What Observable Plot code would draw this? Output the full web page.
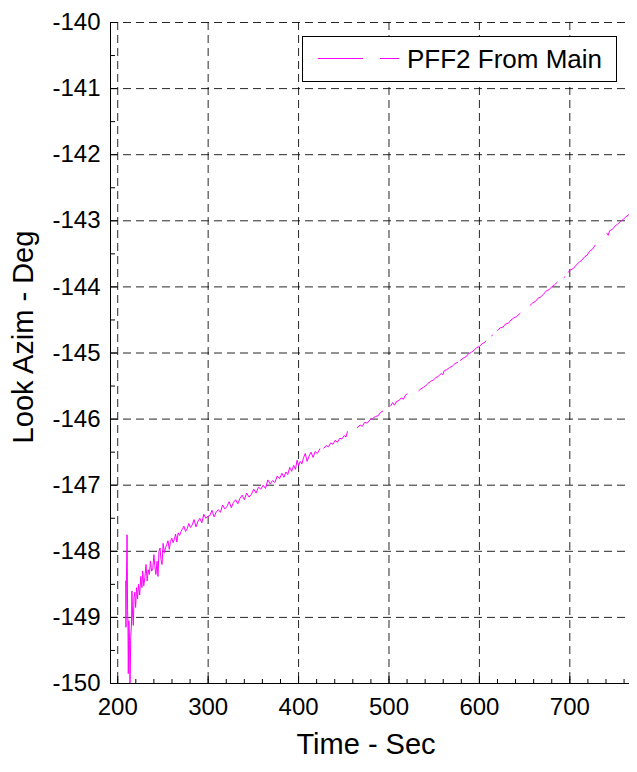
<!DOCTYPE html>
<html>
<head>
<meta charset="utf-8">
<script src="https://cdn.jsdelivr.net/npm/d3@7"></script>
<script src="https://cdn.jsdelivr.net/npm/@observablehq/plot@0.6"></script>
<style>
  html, body { margin: 0; padding: 0; background: #fff; }
  svg { display: block; }
</style>
</head>
<body>
<div id="chart"></div>
<script>
// ---- data (null = gap in the recorded trace) ----
const time = [
  208.8, 209.1, 209.5, 210.3, 210.6, 210.9, 211.3, 211.7, 212.3, 213.1, 213.6, 214.4,
  215.2, 215.7, 216.4, 217.2, 218.0, 218.9, 219.8, 220.8, 221.9, 223.0, 224.3, 225.5, 226.7, 227.6, 228.8, 230.0,
  231.3, 232.5, 233.8, 235.0, 236.2, 237.5, 238.8, 240.0, 241.0, 242.2, 243.5, 244.5, 245.6, 246.8, 247.8, 249.0,
  250.2, 251.6, 253.0, 254.2, 255.6, 257.0, 258.4, 259.8, 261.2, 262.6, 264.0, 265.4, 266.8, 268.4, 270.0, 271.6,
  273.2, 275.0, 276.8, 278.6, 280.4, 282.4, 284.4, 286.6, 288.6, 290.8, 293.0, 295.2, 297.4, 299.6, 302.0, 304.2,
  306.6, 309.0, 311.4, 313.6, 316.0, 318.4, 320.8, 323.2, 325.6, 328.0, 330.4, 332.8, 335.2, 337.6, 340.0, 342.6,
  345.2, 347.8, 350.4, 353.0, 355.6, 358.2, 360.8, 363.4, 366.0, 368.6, 371.2, 373.8, 376.4, 379.0, 381.6, 383.8,
  386.0, 388.0, 390.2, 392.4, 394.6, 396.6, 398.4, 400.0, 401.8, 403.6, 405.6, 407.4, 409.4, 411.6, 413.8, 416.0,
  418.4, 420.8, 423.5, null,
  428, 430.5, 433, 435.5, 438, 440.5, 443, 445.5, 448, 450.5, 452.5, 454, null,
  465, 468, 470.5, 473, 476, 479, 482, 485, 488, 490.5, 493, null,
  502, 504, 506, 508.5, 511, 513.5, 516, 518, 520, null,
  533, 535.5, 538, 540.5, 543, 546, 549, 552, 554, 556, 558, 559.5, 561, 564, 567, 570, 573, 576, null,
  579, 582, 585, 588, 591, 594, 597, 600, 603, 606, 607, null,
  613.5, 614.5, null,
  620, 623, 626, 629, 632, 635, 638, 641, 645, null,
  656, 659, 662, 665, 668, 671, 674, 677, 680, 683, 686, null,
  693.5, 694.5, null,
  698, 701, 704, 707, 710, 713, 716, 719, 722, 725, 728, null,
  741, 742.5, 744, 747, 750, 753, 756, 759, 762, 765
];
const azim = [
  -148.45, -149.15, -148.55, -147.75, -148.25, -148.9, -149.1, -149.85, -149.05, -149.35, -150.0, -149.3,
  -149.1, -148.6, -148.95, -149.12, -148.7, -148.62, -148.85, -148.55, -148.72, -148.5, -148.66, -148.38, -148.55, -148.3, -148.52, -148.4,
  -148.2, -148.45, -148.28, -148.35, -148.15, -148.3, -148.26, -148.05, -148.22, -148.35, -148.15, -148.38, -148.0, -147.95, -148.12, -148.2,
  -147.88, -148.02, -147.94, -147.9, -147.84, -147.97, -147.85, -147.8, -147.87, -147.82, -147.74, -147.86, -147.72, -147.76, -147.7, -147.66,
  -147.62, -147.7, -147.66, -147.58, -147.64, -147.6, -147.52, -147.63, -147.55, -147.5, -147.57, -147.44, -147.5, -147.47, -147.46, -147.38,
  -147.48, -147.4, -147.37, -147.41, -147.3, -147.36, -147.32, -147.25, -147.34, -147.26, -147.22, -147.28, -147.2, -147.15, -147.22, -147.12,
  -147.18, -147.14, -147.06, -147.12, -147.03, -147.06, -147.0, -147.05, -146.92, -146.98, -146.93, -146.96, -146.86, -146.9, -146.82, -146.88,
  -146.8, -146.84, -146.73, -146.79, -146.7, -146.76, -146.62, -146.7, -146.64, -146.68, -146.58, -146.52, -146.64, -146.56, -146.5, -146.58,
  -146.49, -146.52, -146.45, null,
  -146.44, -146.4, -146.42, -146.36, -146.38, -146.32, -146.35, -146.29, -146.3, -146.25, -146.27, -146.19, null,
  -146.13, -146.09, -146.11, -146.05, -146.06, -146.01, -145.99, -145.96, -145.95, -145.9, -145.88, null,
  -145.8, -145.75, -145.79, -145.73, -145.72, -145.68, -145.7, -145.64, -145.62, null,
  -145.57, -145.54, -145.52, -145.5, -145.46, -145.43, -145.41, -145.37, -145.36, -145.33, -145.31, -145.33, -145.27, -145.25, -145.22, -145.2, -145.16, -145.14, null,
  -145.11, -145.08, -145.06, -145.01, -144.99, -144.96, -144.92, -144.9, -144.86, -144.84, -144.82, null,
  -144.74, -144.73, null,
  -144.66, -144.62, -144.61, -144.56, -144.55, -144.5, -144.47, -144.45, -144.4, null,
  -144.28, -144.24, -144.22, -144.17, -144.15, -144.11, -144.06, -144.04, -144.0, -143.97, -143.93, null,
  -143.86, -143.85, null,
  -143.78, -143.74, -143.72, -143.67, -143.63, -143.6, -143.55, -143.52, -143.46, -143.43, -143.37, null,
  -143.19, -143.22, -143.15, -143.13, -143.08, -143.05, -143.01, -142.98, -142.94, -142.91
];
const xTicks = [200, 300, 400, 500, 600, 700];
const xMinorTicks = [200, 220, 240, 260, 280, 300, 320, 340, 360, 380, 400, 420, 440, 460, 480, 500, 520, 540, 560, 580, 600, 620, 640, 660, 680, 700, 720, 740, 760];
const yTicks = [-150, -149, -148, -147, -146, -145, -144, -143, -142, -141, -140];
const yMinorTicks = [-149.5, -148.5, -147.5, -146.5, -145.5, -144.5, -143.5, -142.5, -141.5, -140.5];
const xLabel = "Time - Sec";
const yLabel = "Look Azim - Deg";
const seriesName = "PFF2 From Main";
const seriesColor = "#ff00ff";

const rows = time.map((t, i) => ({t: t == null ? NaN : t, a: azim[i] == null ? NaN : azim[i]}));

const W = 637, H = 772, ML = 110, MR = 8, MT = 22, MB = 89;
const FW = W - ML - MR, FH = H - MT - MB;
const font = "'Liberation Sans', Arial, Helvetica, sans-serif";
const gridStyle = {stroke: "#000", strokeOpacity: 0.85, strokeWidth: 1, strokeDasharray: "8,5"};

const svg = Plot.plot({
  width: W, height: H,
  marginLeft: ML, marginRight: MR, marginTop: MT, marginBottom: MB,
  style: {fontFamily: font, background: "#fff", color: "#000"},
  x: {domain: [192, 766]},
  y: {domain: [-150, -140]},
  marks: [
    Plot.gridX(xTicks, gridStyle),
    Plot.gridY(yTicks.filter(d => d !== -150), gridStyle),
    Plot.ruleX(xMinorTicks, {stroke: "#000", insetTop: FH - 4}),
    Plot.ruleX(xTicks, {stroke: "#000", insetTop: FH - 7}),
    Plot.ruleY(yMinorTicks, {stroke: "#000", insetRight: FW - 5}),
    Plot.ruleY(yTicks, {stroke: "#000", insetRight: FW - 7}),
    Plot.line(rows, {x: "t", y: "a", stroke: seriesColor, strokeWidth: 1}),
    Plot.ruleX([192], {stroke: "#000", strokeWidth: 1}),
    Plot.ruleY([-150], {stroke: "#000", strokeWidth: 1}),
    Plot.axisX(xTicks, {tickSize: 0, tickPadding: 14, fontSize: 24, label: null, tickFormat: d => String(d)}),
    Plot.axisY(yTicks, {tickSize: 0, tickPadding: 10, fontSize: 24, label: null, tickFormat: d => String(d)}),
    Plot.text([xLabel], {text: d => d, frameAnchor: "bottom", textAnchor: "middle", dx: -4, dy: 70, lineAnchor: "bottom", fontSize: 29, fill: "#000"}),
    Plot.text([yLabel], {text: d => d, frameAnchor: "left", textAnchor: "middle", rotate: -90, dx: -78, dy: -16, lineAnchor: "bottom", fontSize: 29, fill: "#000"})
  ]
});

// legend box (top-right, inside the plot frame)
const lg = d3.select(svg).append("g").attr("font-family", font).attr("text-anchor", "start");
lg.append("rect").attr("x", 302.5).attr("y", 36.5).attr("width", 314).attr("height", 45)
  .attr("fill", "#fff").attr("stroke", "#000").attr("stroke-width", 1);
lg.append("line").attr("x1", 318).attr("x2", 363).attr("y1", 58.5).attr("y2", 58.5).attr("stroke", seriesColor);
lg.append("line").attr("x1", 380).attr("x2", 399).attr("y1", 58.5).attr("y2", 58.5).attr("stroke", seriesColor);
lg.append("text").attr("x", 407).attr("y", 68).attr("font-size", 26).attr("text-anchor", "start").attr("fill", "#000").text(seriesName);

document.getElementById("chart").appendChild(svg);
</script>
</body>
</html>
